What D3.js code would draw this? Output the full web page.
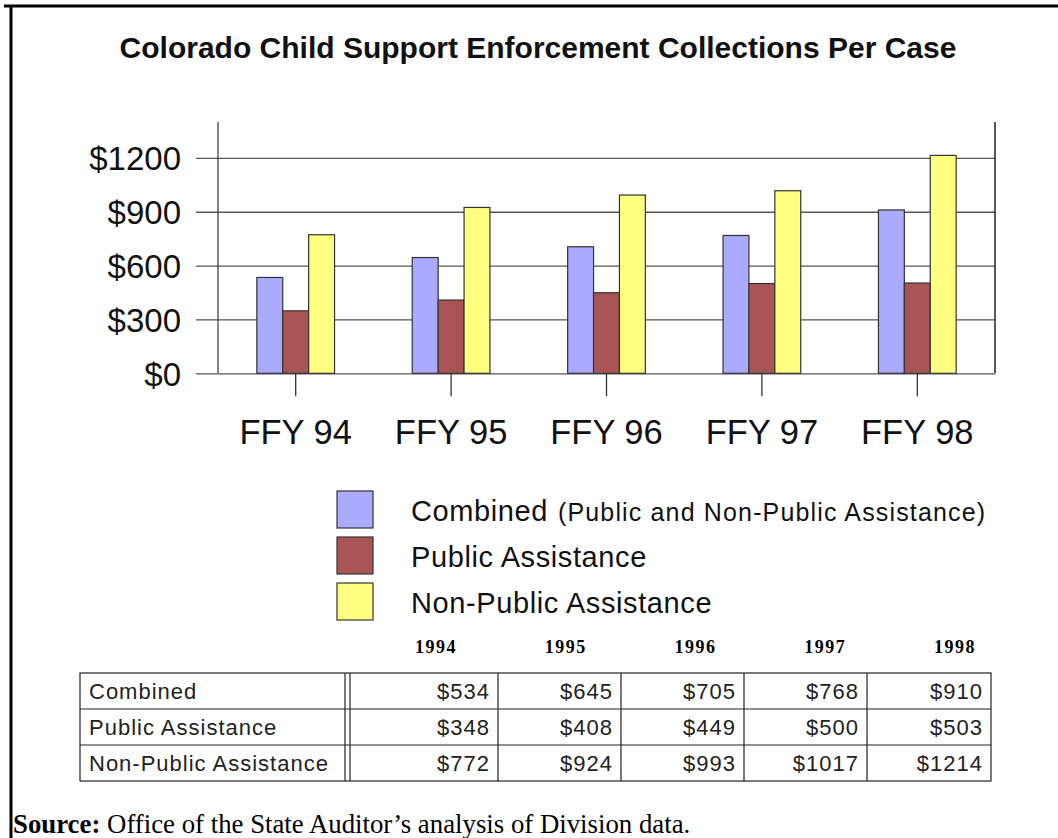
<!DOCTYPE html>
<html>
<head>
<meta charset="utf-8">
<script src="https://cdn.jsdelivr.net/npm/d3@7"></script>
<style>
  body { margin: 0; background: #fff; }
  svg { display: block; }
  text { font-family: "Liberation Sans", Arial, sans-serif; }
</style>
</head>
<body>
<div id="chart"></div>
<script>
var title = "Colorado Child Support Enforcement Collections Per Case";
var categories = ["FFY 94", "FFY 95", "FFY 96", "FFY 97", "FFY 98"];
var years = ["1994", "1995", "1996", "1997", "1998"];
var seriesNames = ["Combined", "Public Assistance", "Non-Public Assistance"];
var combined = [534, 645, 705, 768, 910];
var publicAssist = [348, 408, 449, 500, 503];
var nonPublic = [772, 924, 993, 1017, 1214];
var yTicks = [0, 300, 600, 900, 1200];
var colors = ["#aaaaff", "#aa5555", "#ffff80"];

var seriesValues = [combined, publicAssist, nonPublic];

var width = 1058, height = 838;
var svg = d3.select('#chart')
    .append('svg')
    .attr('width', width)
    .attr('height', height);

// page frame (top and left rules)
svg.append('line').attr('x1', 4).attr('x2', width).attr('y1', 6).attr('y2', 6)
    .attr('stroke', '#000').attr('stroke-width', 3);
svg.append('line').attr('x1', 11).attr('x2', 11).attr('y1', 5).attr('y2', height)
    .attr('stroke', '#000').attr('stroke-width', 3);

svg.append('text')
    .attr('x', 538).attr('y', 58)
    .attr('text-anchor', 'middle')
    .style('font-size', '30px')
    .style('font-weight', 'bold')
    .attr('fill', '#111')
    .text(title);

// plot
var plotLeft = 218, plotRight = 995, plotTop = 122, plotBottom = 373.3;

var x0 = d3.scaleBand().domain(categories).range([plotLeft, plotRight]);
var x1 = d3.scaleBand().domain(seriesNames)
    .range([x0.bandwidth() * 0.25, x0.bandwidth() * 0.75]);
var y = d3.scaleLinear().domain([0, 1400]).range([plotBottom, plotTop]);

var yAxis = svg.append('g')
    .attr('transform', 'translate(196,0)')
    .call(d3.axisLeft(y).tickValues(yTicks)
          .tickSize(-(plotRight - 196)).tickPadding(15)
          .tickFormat(function(d){ return '$' + d; }));
yAxis.select('.domain').remove();
yAxis.selectAll('line').attr('stroke', '#555').attr('stroke-width', 1.3);
yAxis.selectAll('text')
    .style('font-family', '"Liberation Sans", Arial, sans-serif')
    .style('font-size', '33px')
    .attr('fill', '#111')
    .attr('dy', '0.36em');

svg.append('line').attr('x1', plotLeft).attr('x2', plotLeft)
    .attr('y1', plotTop).attr('y2', plotBottom)
    .attr('stroke', '#444').attr('stroke-width', 1.3);
svg.append('line').attr('x1', plotRight).attr('x2', plotRight)
    .attr('y1', plotTop).attr('y2', plotBottom)
    .attr('stroke', '#222').attr('stroke-width', 1.5);

var groups = svg.selectAll('g.group')
    .data(categories)
    .enter()
    .append('g')
    .attr('class', 'group')
    .attr('transform', function(d){ return 'translate(' + x0(d) + ',0)'; });

groups.selectAll('rect')
    .data(function(d, i){
        return seriesNames.map(function(s, j){ return {s: s, v: seriesValues[j][i], j: j}; });
    })
    .enter()
    .append('rect')
    .attr('x', function(d){ return x1(d.s); })
    .attr('width', x1.bandwidth())
    .attr('y', function(d){ return y(d.v); })
    .attr('height', function(d){ return y(0) - y(d.v); })
    .style('fill', function(d){ return colors[d.j]; })
    .attr('stroke', '#333')
    .attr('stroke-width', 1.2);

var xAxis = svg.append('g')
    .attr('transform', 'translate(0,' + plotBottom + ')')
    .call(d3.axisBottom(x0).tickSize(23).tickPadding(23));
xAxis.select('.domain').remove();
xAxis.selectAll('line').attr('stroke', '#333').attr('stroke-width', 1.3);
xAxis.selectAll('text')
    .style('font-family', '"Liberation Sans", Arial, sans-serif')
    .style('font-size', '34.5px')
    .attr('fill', '#111');

// legend
var legend = svg.selectAll('g.legend')
    .data(seriesNames)
    .enter()
    .append('g')
    .attr('class', 'legend')
    .attr('transform', function(d, i){ return 'translate(337,' + (491 + i * 46) + ')'; });
legend.append('rect')
    .attr('width', 36).attr('height', 37)
    .style('fill', function(d, i){ return colors[i]; })
    .attr('stroke', '#333').attr('stroke-width', 1.2);
var lt = legend.append('text')
    .attr('x', 74).attr('y', 30)
    .style('font-size', '29px')
    .style('letter-spacing', '0.6px')
    .attr('fill', '#111')
    .text(function(d){ return d; });
lt.filter(function(d, i){ return i == 0; })
    .append('tspan')
    .attr('dx', 10)
    .style('font-size', '25px')
    .style('letter-spacing', '1.15px')
    .text('(Public and Non-Public Assistance)');

// table
var tTop = 673, rowH = 36;
var tLeft = 80, tSplit = 345, tRight = 991;
var colEdges = [350, 498, 621, 744, 867, 991];
var yearX = d3.scalePoint().domain(years).range([436, 955]);

svg.selectAll('text.year')
    .data(years)
    .enter()
    .append('text')
    .attr('class', 'year')
    .attr('x', function(d){ return yearX(d); })
    .attr('y', 653)
    .attr('text-anchor', 'middle')
    .style('font-family', '"Liberation Serif", "Times New Roman", serif')
    .style('font-size', '18px')
    .style('font-weight', 'bold')
    .style('letter-spacing', '1.5px')
    .text(function(d){ return d; });

var table = svg.append('g');
table.append('rect')
    .attr('x', tLeft).attr('y', tTop)
    .attr('width', tRight - tLeft).attr('height', rowH * 3)
    .attr('fill', 'none').attr('stroke', '#222').attr('stroke-width', 1.2);
[1, 2].forEach(function(r){
    table.append('line')
        .attr('x1', tLeft).attr('x2', tRight)
        .attr('y1', tTop + r * rowH).attr('y2', tTop + r * rowH)
        .attr('stroke', '#222').attr('stroke-width', 1.2);
});
table.append('line').attr('x1', tSplit).attr('x2', tSplit)
    .attr('y1', tTop).attr('y2', tTop + rowH * 3)
    .attr('stroke', '#222').attr('stroke-width', 1.2);
colEdges.slice(0, 5).forEach(function(cx){
    table.append('line').attr('x1', cx).attr('x2', cx)
        .attr('y1', tTop).attr('y2', tTop + rowH * 3)
        .attr('stroke', '#222').attr('stroke-width', 1.2);
});

seriesNames.forEach(function(s, r){
    table.append('text')
        .attr('x', 89).attr('y', tTop + r * rowH + 26)
        .style('font-size', '22px')
        .attr('fill', '#222')
        .style('letter-spacing', '1px')
        .text(s);
    table.selectAll('text.v' + r)
        .data(seriesValues[r])
        .enter()
        .append('text')
        .attr('class', 'v' + r)
        .attr('x', function(d, i){ return colEdges[i + 1] - 8; })
        .attr('y', tTop + r * rowH + 26)
        .attr('text-anchor', 'end')
        .style('font-size', '22px')
        .style('letter-spacing', '1px')
        .attr('fill', '#222')
        .text(function(d){ return '$' + d; });
});

// source
var src = svg.append('text')
    .attr('x', 13).attr('y', 833)
    .style('font-family', '"Liberation Serif", "Times New Roman", serif')
    .style('font-size', '26.8px')
    .attr('fill', '#000');
src.append('tspan').style('font-weight', 'bold').text('Source:');
src.append('tspan').text(' Office of the State Auditor\u2019s analysis of Division data.');
</script>
</body>
</html>
